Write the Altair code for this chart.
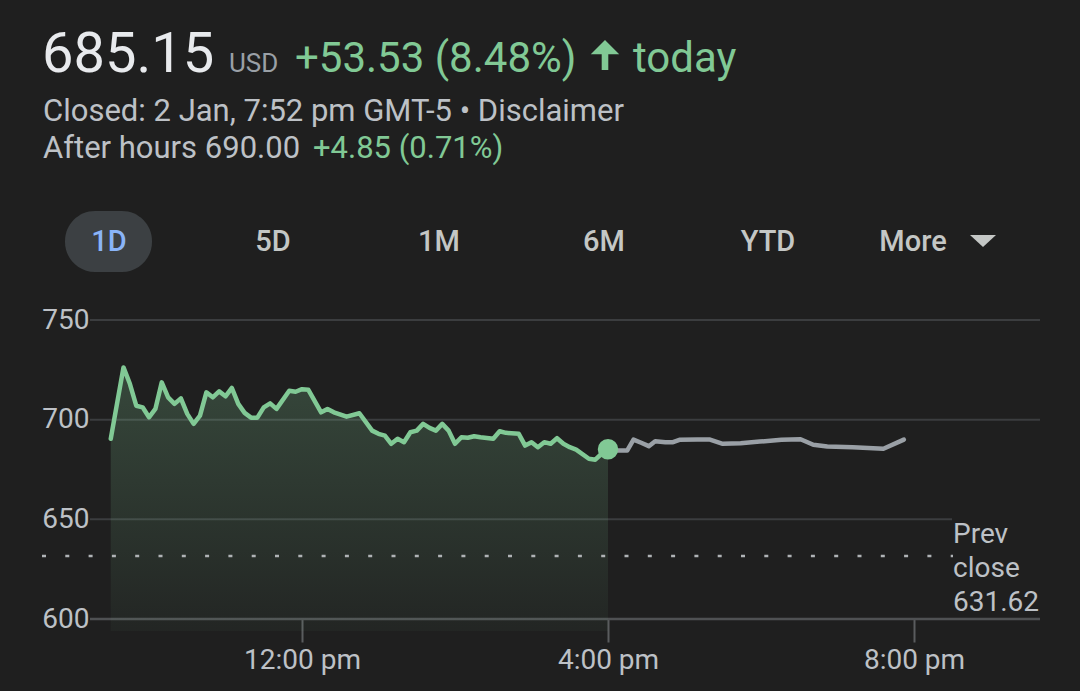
import altair as alt
import pandas as pd

# ---------------- data ----------------
reg_times = ["09:30","09:40","09:45","09:50","09:55","10:00","10:05","10:10","10:15","10:20",
             "10:25","10:30","10:35","10:40","10:45","10:50","10:55","11:00","11:05","11:10",
             "11:15","11:20","11:25","11:30","11:35","11:40","11:50","11:55","12:00","12:05",
             "12:15","12:20","12:25","12:35","12:45","12:55","13:00","13:05","13:10","13:15",
             "13:20","13:25","13:30","13:35","13:40","13:45","13:50","13:55","14:00","14:05",
             "14:10","14:15","14:20","14:30","14:35","14:40","14:50","14:55","15:00","15:05",
             "15:10","15:15","15:20","15:25","15:30","15:35","15:45","15:50","15:55","16:00"]
reg_prices = [690.4,726.2,718.0,707.0,706.2,701.2,705.4,718.7,711.2,707.9,
              710.7,702.9,697.9,702.0,713.7,711.2,714.2,711.7,715.9,707.9,
              703.4,701.0,701.0,706.2,708.2,705.4,714.5,714.0,715.3,715.0,
              703.7,705.4,703.7,701.5,703.2,694.5,692.9,692.0,687.9,690.4,
              688.7,693.7,694.5,697.9,695.9,694.5,697.9,694.5,687.9,691.2,
              690.9,691.7,691.2,690.4,694.2,693.4,692.9,687.0,688.7,686.2,
              688.7,687.9,690.7,687.9,686.2,685.0,680.4,679.9,682.9,685.15]

ah_times = ["16:00","16:08","16:15","16:20","16:26","16:32","16:37","16:45","16:51","16:56",
            "17:10","17:20","17:30","17:44","17:59","18:16","18:31","18:41","18:52","19:12",
            "19:36","19:52"]
ah_prices = [685.15,684.5,684.5,690.0,688.4,686.7,689.2,688.7,688.7,689.9,
             690.0,690.0,687.9,688.2,689.0,689.9,690.2,687.4,686.5,686.2,
             685.4,690.0]

close_time = ["16:00"]
close_price = [685.15]
prev_close = [631.62]

grid_upper = [750, 700]
grid_short = [650]
grid_base = [600]
y_ticks = [600, 650, 700, 750]
x_ticks_min = [720, 960, 1200]   # 12:00 pm, 4:00 pm, 8:00 pm

header_price = "685.15"
header_ccy = "USD"
header_change = "+53.53 (8.48%)"
header_today = "today"
line2 = "Closed: 2 Jan, 7:52 pm GMT-5 • Disclaimer"
line3_a = "After hours 690.00"
line3_b = "+4.85 (0.71%)"
ranges = ["1D", "5D", "1M", "6M", "YTD", "More"]
prev_label = ["Prev", "close", "631.62"]


def to_min(t):
    h, m = t.split(":")
    return int(h) * 60 + int(m)


reg = pd.DataFrame({"t": [to_min(t) for t in reg_times], "p": reg_prices})
ah = pd.DataFrame({"t": [to_min(t) for t in ah_times], "p": ah_prices})
cl = pd.DataFrame({"t": [to_min(t) for t in close_time], "p": close_price})
pc = pd.DataFrame({"p": prev_close})
gu = pd.DataFrame({"p": grid_upper})
gs = pd.DataFrame({"p": grid_short})
gb = pd.DataFrame({"p": grid_base})

# ---------------- styling ----------------
BG = "#1f1f1f"
GREEN = "#81c995"
GREY_LINE = "#9aa0a6"
TEXT = "#bdc1c6"
FONT = "Roboto"
OX, OY = 90, 320  # plot origin in page pixels
W, H = 950, 299

xscale = alt.Scale(domain=[553.73, 1298.8], nice=False, zero=False)
yscale = alt.Scale(domain=[600, 750], nice=False, zero=False)

label_expr = ("(floor(datum.value/60) % 12 == 0 ? 12 : floor(datum.value/60) % 12) + ':' + "
              "(datum.value % 60 < 10 ? '0' : '') + (datum.value % 60) + "
              "(datum.value >= 720 ? ' pm' : ' am')")

xaxis = alt.Axis(values=x_ticks_min, labelExpr=label_expr, title=None, grid=False,
                 domain=False, tickSize=23, tickWidth=2, tickColor="#5a5c5e",
                 labelPadding=4, labelFontSize=28, labelColor=TEXT, labelFont=FONT)
yaxis = alt.Axis(values=y_ticks, title=None, grid=False, domain=False, ticks=False,
                 labelPadding=1, labelFontSize=28, labelColor=TEXT, labelFont=FONT)

X = alt.X("t:Q", scale=xscale, axis=xaxis, title=None)
Y = alt.Y("p:Q", scale=yscale, axis=yaxis, title=None)

one = alt.Data(values=[{"k": 0}])


def px(x):
    return alt.value(x - OX)


def py(y):
    return alt.value(y - OY)


grid1 = alt.Chart(gu).mark_rule(color="#3b3d3f", strokeWidth=2).encode(
    y=Y, x=alt.value(0), x2=alt.value(W))
grid2 = alt.Chart(gs).mark_rule(color="#3b3d3f", strokeWidth=2).encode(
    y=Y, x=alt.value(0), x2=alt.value(952 - OX))
grid3 = alt.Chart(gb).mark_rule(color="#4f5153", strokeWidth=2.5).encode(
    y=Y, x=alt.value(0), x2=alt.value(W))

area = alt.Chart(reg).mark_area(
    fill=alt.Gradient(gradient="linear",
                      stops=[alt.GradientStop(color="rgba(129,201,149,0.24)", offset=0),
                             alt.GradientStop(color="rgba(129,201,149,0.04)", offset=1)],
                      x1=1, x2=1, y1=0, y2=1)
).encode(x=X, y=Y, y2=alt.datum(594))

prev_rule = alt.Chart(pc).mark_rule(color="#b0b3b6", strokeWidth=2.5, strokeDash=[4, 19.3]).encode(
    y=Y, x=alt.value(42 - OX), x2=alt.value(953 - OX))

line_reg = alt.Chart(reg).mark_line(color=GREEN, strokeWidth=4.5, strokeJoin="round", strokeCap="round").encode(
    x=X, y=Y)
line_ah = alt.Chart(ah).mark_line(color=GREY_LINE, strokeWidth=4.5, strokeJoin="round", strokeCap="round").encode(
    x=X, y=Y)
dot = alt.Chart(cl).mark_point(filled=True, color=GREEN, size=420, opacity=1).encode(x=X, y=Y)

layers = [grid1, grid2, grid3, area, prev_rule, line_reg, line_ah, dot]


def txt(s, x, y, size, color, align="left", baseline="alphabetic", weight="normal", font=FONT):
    return alt.Chart(one).mark_text(text=s, align=align, baseline=baseline, fontSize=size,
                                    color=color, font=font, fontWeight=weight).encode(
        x=px(x), y=py(y))


# header
layers += [
    txt(header_price, 42, 72, 56, "#e8eaed"),
    txt(header_ccy, 229, 72, 26, GREY_LINE),
    txt(header_change, 295, 72, 42, GREEN),
    txt(header_today, 633, 72, 42, GREEN),
    txt(line2, 43, 121, 31, TEXT),
    txt(line3_a, 43, 158, 31, TEXT),
    txt(line3_b, 313, 158, 31, GREEN),
]
arrow = alt.Chart(one).mark_point(
    shape="M0,-1 L0.95,-0.05 L0.22,-0.05 L0.22,1 L-0.22,1 L-0.22,-0.05 L-0.95,-0.05 Z",
    filled=True, color=GREEN, size=900, opacity=1, strokeWidth=0).encode(x=px(605), y=py(55))
layers.append(arrow)

# range selector
pill = alt.Chart(one).mark_rect(color="#3c4043", cornerRadius=30).encode(
    x=px(65), x2=px(152), y=py(211), y2=py(272))
layers.append(pill)
centers = [109, 273, 439, 604, 768, 913]
for lab, cx in zip(ranges, centers):
    layers.append(txt(lab, cx, 242, 29, "#8ab4f8" if lab == "1D" else "#c4c7c5",
                      align="center", baseline="middle", weight=500))
tri = alt.Chart(one).mark_point(shape="M-1,-0.46 L1,-0.46 L0,0.46 Z", filled=True,
                                color="#c4c7c5", size=676, opacity=1, strokeWidth=0).encode(
    x=px(983), y=py(241))
layers.append(tri)

# prev close label
layers.append(alt.Chart(one).mark_text(text=prev_label, align="left", baseline="top", fontSize=28,
                                       lineHeight=34, color=TEXT, font=FONT).encode(
    x=px(953), y=py(521)))

chart = alt.layer(*layers).properties(
    width=W, height=H,
    padding={"left": OX, "top": OY, "right": 1080 - OX - W, "bottom": 691 - OY - H},
    autosize=alt.AutoSizeParams(type="none"),
    background=BG,
).configure_view(stroke=None)

chart.save("out.html", embed_options={"renderer": "svg", "actions": False})
